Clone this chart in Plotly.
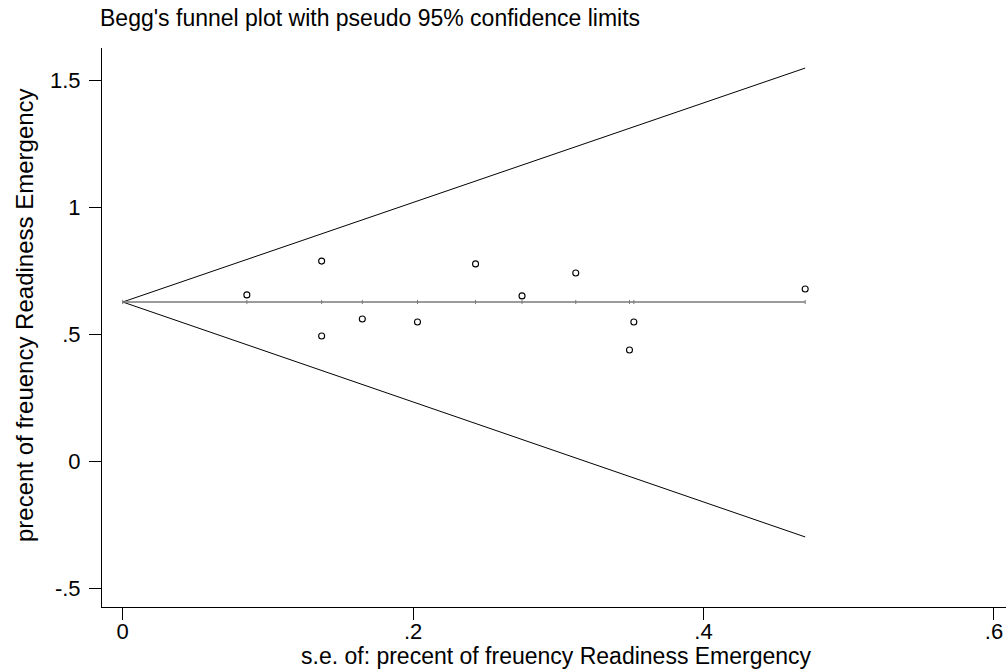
import plotly.graph_objects as go

# Data
se_values = [0.0855, 0.137, 0.137, 0.165, 0.203, 0.243, 0.275, 0.312, 0.352, 0.349, 0.470]
effect_values = [0.654, 0.787, 0.492, 0.559, 0.547, 0.776, 0.650, 0.740, 0.547, 0.437, 0.677]

funnel_se = [0.0, 0.470]
funnel_upper = [0.626, 1.547]
funnel_lower = [0.626, -0.299]
center_se = [0.0, 0.0855, 0.137, 0.165, 0.203, 0.243, 0.275, 0.312, 0.349, 0.352, 0.470]
center_y = [0.626] * len(center_se)

x_tickvals = [0, 0.2, 0.4, 0.6]
x_ticktext = ["0", ".2", ".4", ".6"]
y_tickvals = [-0.5, 0, 0.5, 1, 1.5]
y_ticktext = ["-.5", "0", ".5", "1", "1.5"]

title_text = "Begg's funnel plot with pseudo 95% confidence limits"
x_title = "s.e. of: precent of freuency Readiness Emergency"
y_title = "precent of freuency Readiness Emergency"

W, H = 1006, 671
L, R, T, B = 102, 0, 48, 671 - 607
FONT = "Liberation Sans, Arial, sans-serif"


def px(xp):
    return (xp - L) / (W - L - R)


def py(yp):
    return (H - B - yp) / (H - T - B)


fig = go.Figure()
fig.add_trace(go.Scatter(x=funnel_se, y=funnel_upper, mode="lines",
                         line=dict(color="black", width=1), hoverinfo="skip"))
fig.add_trace(go.Scatter(x=funnel_se, y=funnel_lower, mode="lines",
                         line=dict(color="black", width=1), hoverinfo="skip"))
fig.add_trace(go.Scatter(x=center_se, y=center_y, mode="lines+markers",
                         line=dict(color="#7a7a7a", width=1.6),
                         marker=dict(symbol="line-ns-open", size=3,
                                     line=dict(color="#666666", width=1)),
                         hoverinfo="skip"))
fig.add_trace(go.Scatter(x=se_values, y=effect_values, mode="markers",
                         marker=dict(symbol="circle-open", size=6,
                                     color="black", line=dict(width=1.1))))

fig.update_layout(
    width=W, height=H,
    margin=dict(l=L, r=R, t=T, b=B),
    paper_bgcolor="white", plot_bgcolor="white",
    showlegend=False,
    font=dict(family=FONT, size=22, color="black"),
    title=dict(text=title_text, x=100 / W, xanchor="left", xref="container",
               y=1 - 18 / H, yanchor="middle", yref="container",
               font=dict(family=FONT, size=23, color="black")),
    xaxis=dict(range=[-0.01426, 0.6083], tickvals=x_tickvals, ticktext=x_ticktext,
               showgrid=False, zeroline=False, showline=True, linecolor="black",
               linewidth=1, ticks="outside", ticklen=12, tickcolor="black",
               tickwidth=1, tickfont=dict(size=22), ticklabelstandoff=-7),
    yaxis=dict(range=[-0.5748, 1.626], tickvals=y_tickvals, ticktext=y_ticktext,
               showgrid=False, zeroline=False, showline=True, linecolor="black",
               linewidth=1, ticks="outside", ticklen=12, tickcolor="black",
               tickwidth=1, tickfont=dict(size=22), ticklabelstandoff=4),
    annotations=[
        dict(text=x_title, xref="paper", yref="paper", x=px(556), y=py(656),
             xanchor="center", yanchor="middle", showarrow=False,
             font=dict(family=FONT, size=23, color="black")),
        dict(text=y_title, xref="paper", yref="paper", x=px(24), y=py(315),
             xanchor="center", yanchor="middle", showarrow=False, textangle=-90,
             font=dict(family=FONT, size=24, color="black")),
    ],
)

fig.write_html("out.html",
               config={"displayModeBar": False},
               post_script="document.body.style.margin='0';"
                           "document.body.style.overflow='hidden';")
